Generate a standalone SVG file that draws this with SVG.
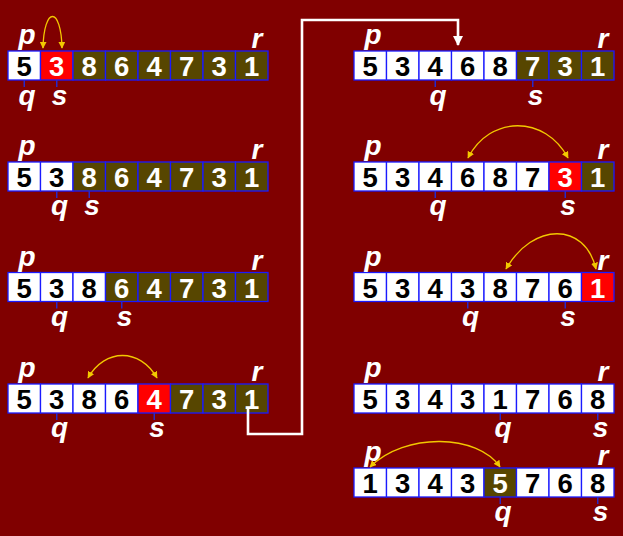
<svg xmlns="http://www.w3.org/2000/svg" width="623" height="536" viewBox="0 0 623 536">
<defs>
<style>
.c{stroke:#1a1aff;stroke-width:1.3}
.w{fill:#ffffff}
.r{fill:#ff0000}
.o{fill:#574600}
.d{font-family:"Liberation Sans",Arial,sans-serif;font-weight:bold;font-size:27.5px;text-anchor:middle}
.dk{fill:#000000}
.dl{fill:#ffffff}
.lb{font-family:"Liberation Sans",Arial,sans-serif;font-weight:bold;font-style:italic;font-size:28px;text-anchor:middle;fill:#ffffff}
.t{stroke:#2828c8;stroke-width:1.5}
.y{fill:none;stroke:#f2c800;stroke-width:1.3}
.wl{fill:none;stroke:#ffffff;stroke-width:2.6}
</style>
<marker id="ya" viewBox="0 0 10 10" refX="9" refY="5" markerWidth="7" markerHeight="7" markerUnits="userSpaceOnUse" orient="auto-start-reverse">
<path d="M0,0 L10,5 L0,10 Z" fill="#f2c800"/>
</marker>
<marker id="wa" viewBox="0 0 10 10" refX="9" refY="5" markerWidth="10" markerHeight="10" markerUnits="userSpaceOnUse" orient="auto">
<path d="M0,0 L10,5 L0,10 Z" fill="#ffffff"/>
</marker>
</defs>
<rect width="623" height="536" fill="#800000"/>

<g id="L1">
<rect class="c w" x="8" y="51" width="32.5" height="29"/><rect class="c r" x="40.5" y="51" width="32.5" height="29"/><rect class="c o" x="73" y="51" width="32.5" height="29"/><rect class="c o" x="105.5" y="51" width="32.5" height="29"/><rect class="c o" x="138" y="51" width="32.5" height="29"/><rect class="c o" x="170.5" y="51" width="32.5" height="29"/><rect class="c o" x="203" y="51" width="32.5" height="29"/><rect class="c o" x="235.5" y="51" width="32.5" height="29"/>
<text class="d dk" x="24.25" y="76">5</text><text class="d dl" x="56.75" y="76">3</text><text class="d dl" x="89.25" y="76">8</text><text class="d dl" x="121.75" y="76">6</text><text class="d dl" x="154.25" y="76">4</text><text class="d dl" x="186.75" y="76">7</text><text class="d dl" x="219.25" y="76">3</text><text class="d dl" x="251.75" y="76">1</text>
<text class="lb" x="27" y="44">p</text><text class="lb" x="257" y="48">r</text>
<line class="t" x1="24.25" y1="80" x2="24.25" y2="87"/><line class="t" x1="56.75" y1="80" x2="56.75" y2="87"/>
<text class="lb" x="27" y="105">q</text><text class="lb" x="59.5" y="105">s</text>
</g>

<g id="L2">
<rect class="c w" x="8" y="162" width="32.5" height="29"/><rect class="c w" x="40.5" y="162" width="32.5" height="29"/><rect class="c o" x="73" y="162" width="32.5" height="29"/><rect class="c o" x="105.5" y="162" width="32.5" height="29"/><rect class="c o" x="138" y="162" width="32.5" height="29"/><rect class="c o" x="170.5" y="162" width="32.5" height="29"/><rect class="c o" x="203" y="162" width="32.5" height="29"/><rect class="c o" x="235.5" y="162" width="32.5" height="29"/>
<text class="d dk" x="24.25" y="187">5</text><text class="d dk" x="56.75" y="187">3</text><text class="d dl" x="89.25" y="187">8</text><text class="d dl" x="121.75" y="187">6</text><text class="d dl" x="154.25" y="187">4</text><text class="d dl" x="186.75" y="187">7</text><text class="d dl" x="219.25" y="187">3</text><text class="d dl" x="251.75" y="187">1</text>
<text class="lb" x="27" y="155">p</text><text class="lb" x="257" y="159">r</text>
<line class="t" x1="56.75" y1="191" x2="56.75" y2="198"/><line class="t" x1="89.25" y1="191" x2="89.25" y2="198"/>
<text class="lb" x="59.5" y="215">q</text><text class="lb" x="92" y="215">s</text>
</g>

<g id="L3">
<rect class="c w" x="8" y="272.5" width="32.5" height="29"/><rect class="c w" x="40.5" y="272.5" width="32.5" height="29"/><rect class="c w" x="73" y="272.5" width="32.5" height="29"/><rect class="c o" x="105.5" y="272.5" width="32.5" height="29"/><rect class="c o" x="138" y="272.5" width="32.5" height="29"/><rect class="c o" x="170.5" y="272.5" width="32.5" height="29"/><rect class="c o" x="203" y="272.5" width="32.5" height="29"/><rect class="c o" x="235.5" y="272.5" width="32.5" height="29"/>
<text class="d dk" x="24.25" y="297.5">5</text><text class="d dk" x="56.75" y="297.5">3</text><text class="d dk" x="89.25" y="297.5">8</text><text class="d dl" x="121.75" y="297.5">6</text><text class="d dl" x="154.25" y="297.5">4</text><text class="d dl" x="186.75" y="297.5">7</text><text class="d dl" x="219.25" y="297.5">3</text><text class="d dl" x="251.75" y="297.5">1</text>
<text class="lb" x="27" y="265.5">p</text><text class="lb" x="257" y="269.5">r</text>
<line class="t" x1="56.75" y1="301.5" x2="56.75" y2="308.5"/><line class="t" x1="121.75" y1="301.5" x2="121.75" y2="308.5"/>
<text class="lb" x="59.5" y="326">q</text><text class="lb" x="124.5" y="326">s</text>
</g>

<g id="L4">
<rect class="c w" x="8" y="384" width="32.5" height="29"/><rect class="c w" x="40.5" y="384" width="32.5" height="29"/><rect class="c w" x="73" y="384" width="32.5" height="29"/><rect class="c w" x="105.5" y="384" width="32.5" height="29"/><rect class="c r" x="138" y="384" width="32.5" height="29"/><rect class="c o" x="170.5" y="384" width="32.5" height="29"/><rect class="c o" x="203" y="384" width="32.5" height="29"/><rect class="c o" x="235.5" y="384" width="32.5" height="29"/>
<text class="d dk" x="24.25" y="409">5</text><text class="d dk" x="56.75" y="409">3</text><text class="d dk" x="89.25" y="409">8</text><text class="d dk" x="121.75" y="409">6</text><text class="d dl" x="154.25" y="409">4</text><text class="d dl" x="186.75" y="409">7</text><text class="d dl" x="219.25" y="409">3</text><text class="d dl" x="251.75" y="409">1</text>
<text class="lb" x="27" y="377">p</text><text class="lb" x="257" y="381">r</text>
<line class="t" x1="56.75" y1="413" x2="56.75" y2="420"/><line class="t" x1="154.25" y1="413" x2="154.25" y2="420"/>
<text class="lb" x="59.5" y="437">q</text><text class="lb" x="157" y="437">s</text>
</g>

<g id="R1">
<rect class="c w" x="354" y="51" width="32.5" height="29"/><rect class="c w" x="386.5" y="51" width="32.5" height="29"/><rect class="c w" x="419" y="51" width="32.5" height="29"/><rect class="c w" x="451.5" y="51" width="32.5" height="29"/><rect class="c w" x="484" y="51" width="32.5" height="29"/><rect class="c o" x="516.5" y="51" width="32.5" height="29"/><rect class="c o" x="549" y="51" width="32.5" height="29"/><rect class="c o" x="581.5" y="51" width="32.5" height="29"/>
<text class="d dk" x="370.25" y="76">5</text><text class="d dk" x="402.75" y="76">3</text><text class="d dk" x="435.25" y="76">4</text><text class="d dk" x="467.75" y="76">6</text><text class="d dk" x="500.25" y="76">8</text><text class="d dl" x="532.75" y="76">7</text><text class="d dl" x="565.25" y="76">3</text><text class="d dl" x="597.75" y="76">1</text>
<text class="lb" x="373" y="44">p</text><text class="lb" x="603" y="48">r</text>
<line class="t" x1="435.25" y1="80" x2="435.25" y2="87"/><line class="t" x1="532.75" y1="80" x2="532.75" y2="87"/>
<text class="lb" x="438" y="105">q</text><text class="lb" x="535.5" y="105">s</text>
</g>

<g id="R2">
<rect class="c w" x="354" y="162" width="32.5" height="29"/><rect class="c w" x="386.5" y="162" width="32.5" height="29"/><rect class="c w" x="419" y="162" width="32.5" height="29"/><rect class="c w" x="451.5" y="162" width="32.5" height="29"/><rect class="c w" x="484" y="162" width="32.5" height="29"/><rect class="c w" x="516.5" y="162" width="32.5" height="29"/><rect class="c r" x="549" y="162" width="32.5" height="29"/><rect class="c o" x="581.5" y="162" width="32.5" height="29"/>
<text class="d dk" x="370.25" y="187">5</text><text class="d dk" x="402.75" y="187">3</text><text class="d dk" x="435.25" y="187">4</text><text class="d dk" x="467.75" y="187">6</text><text class="d dk" x="500.25" y="187">8</text><text class="d dk" x="532.75" y="187">7</text><text class="d dl" x="565.25" y="187">3</text><text class="d dl" x="597.75" y="187">1</text>
<text class="lb" x="373" y="155">p</text><text class="lb" x="603" y="159">r</text>
<line class="t" x1="435.25" y1="191" x2="435.25" y2="198"/><line class="t" x1="565.25" y1="191" x2="565.25" y2="198"/>
<text class="lb" x="438" y="215">q</text><text class="lb" x="568" y="215">s</text>
</g>

<g id="R3">
<rect class="c w" x="354" y="272.5" width="32.5" height="29"/><rect class="c w" x="386.5" y="272.5" width="32.5" height="29"/><rect class="c w" x="419" y="272.5" width="32.5" height="29"/><rect class="c w" x="451.5" y="272.5" width="32.5" height="29"/><rect class="c w" x="484" y="272.5" width="32.5" height="29"/><rect class="c w" x="516.5" y="272.5" width="32.5" height="29"/><rect class="c w" x="549" y="272.5" width="32.5" height="29"/><rect class="c r" x="581.5" y="272.5" width="32.5" height="29"/>
<text class="d dk" x="370.25" y="297.5">5</text><text class="d dk" x="402.75" y="297.5">3</text><text class="d dk" x="435.25" y="297.5">4</text><text class="d dk" x="467.75" y="297.5">3</text><text class="d dk" x="500.25" y="297.5">8</text><text class="d dk" x="532.75" y="297.5">7</text><text class="d dk" x="565.25" y="297.5">6</text><text class="d dl" x="597.75" y="297.5">1</text>
<text class="lb" x="373" y="265.5">p</text><text class="lb" x="603" y="269.5">r</text>
<line class="t" x1="467.75" y1="301.5" x2="467.75" y2="308.5"/><line class="t" x1="565.25" y1="301.5" x2="565.25" y2="308.5"/>
<text class="lb" x="470.5" y="326">q</text><text class="lb" x="568" y="326">s</text>
</g>

<g id="R4">
<rect class="c w" x="354" y="384" width="32.5" height="29"/><rect class="c w" x="386.5" y="384" width="32.5" height="29"/><rect class="c w" x="419" y="384" width="32.5" height="29"/><rect class="c w" x="451.5" y="384" width="32.5" height="29"/><rect class="c w" x="484" y="384" width="32.5" height="29"/><rect class="c w" x="516.5" y="384" width="32.5" height="29"/><rect class="c w" x="549" y="384" width="32.5" height="29"/><rect class="c w" x="581.5" y="384" width="32.5" height="29"/>
<text class="d dk" x="370.25" y="409">5</text><text class="d dk" x="402.75" y="409">3</text><text class="d dk" x="435.25" y="409">4</text><text class="d dk" x="467.75" y="409">3</text><text class="d dk" x="500.25" y="409">1</text><text class="d dk" x="532.75" y="409">7</text><text class="d dk" x="565.25" y="409">6</text><text class="d dk" x="597.75" y="409">8</text>
<text class="lb" x="373" y="377">p</text><text class="lb" x="603" y="381">r</text>
<line class="t" x1="500.25" y1="413" x2="500.25" y2="420"/><line class="t" x1="597.75" y1="413" x2="597.75" y2="420"/>
<text class="lb" x="503" y="437">q</text><text class="lb" x="600.5" y="437">s</text>
</g>

<g id="R5">
<rect class="c w" x="354" y="468" width="32.5" height="29"/><rect class="c w" x="386.5" y="468" width="32.5" height="29"/><rect class="c w" x="419" y="468" width="32.5" height="29"/><rect class="c w" x="451.5" y="468" width="32.5" height="29"/><rect class="c o" x="484" y="468" width="32.5" height="29"/><rect class="c w" x="516.5" y="468" width="32.5" height="29"/><rect class="c w" x="549" y="468" width="32.5" height="29"/><rect class="c w" x="581.5" y="468" width="32.5" height="29"/>
<text class="d dk" x="370.25" y="493">1</text><text class="d dk" x="402.75" y="493">3</text><text class="d dk" x="435.25" y="493">4</text><text class="d dk" x="467.75" y="493">3</text><text class="d dl" x="500.25" y="493">5</text><text class="d dk" x="532.75" y="493">7</text><text class="d dk" x="565.25" y="493">6</text><text class="d dk" x="597.75" y="493">8</text>
<text class="lb" x="373" y="461">p</text><text class="lb" x="603" y="465">r</text>
<line class="t" x1="500.25" y1="497" x2="500.25" y2="504"/><line class="t" x1="597.75" y1="497" x2="597.75" y2="504"/>
<text class="lb" x="503" y="521">q</text><text class="lb" x="600.5" y="521">s</text>
</g>

<g id="connectors">
<path class="y" d="M43,48 C44,6 61,6 62,48" marker-start="url(#ya)" marker-end="url(#ya)"/>
<path class="y" d="M88,378 C105,348 140,348 157,378" marker-start="url(#ya)" marker-end="url(#ya)"/>
<path class="y" d="M468,158 C490,115 545,115 568,158" marker-start="url(#ya)" marker-end="url(#ya)"/>
<path class="y" d="M506,269 C533,222 585,222 596,269" marker-start="url(#ya)" marker-end="url(#ya)"/>
<path class="y" d="M370,467 C405,432 478,434 500,467" marker-start="url(#ya)" marker-end="url(#ya)"/>
<path class="wl" d="M248,409 V434 H302 V20 H458 V45" marker-end="url(#wa)"/>
</g>
</svg>
